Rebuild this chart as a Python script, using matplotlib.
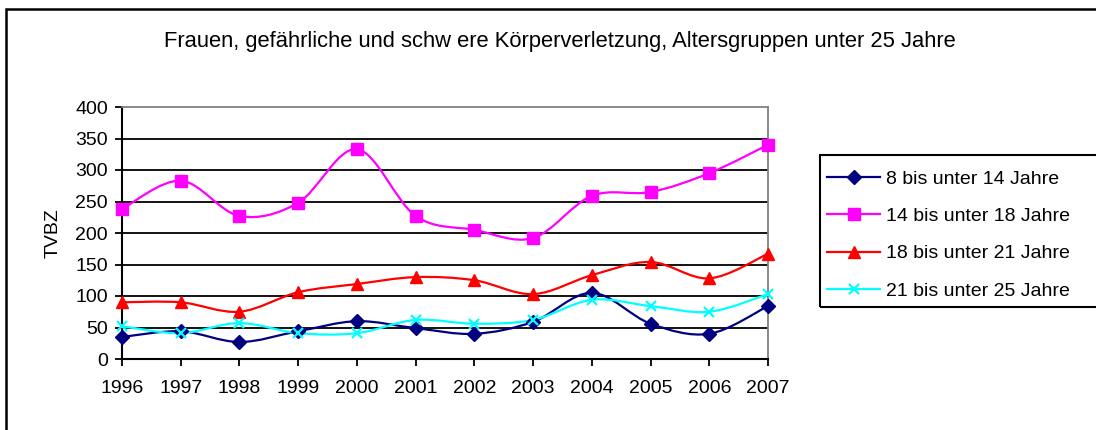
import matplotlib

matplotlib.use("Agg")
import matplotlib.pyplot as plt
from matplotlib.lines import Line2D
from matplotlib.patches import PathPatch, Rectangle
from matplotlib.path import Path

plt.rcParams["font.family"] = ["Liberation Sans", "DejaVu Sans"]

YEARS = [1996, 1997, 1998, 1999, 2000, 2001, 2002, 2003, 2004, 2005, 2006, 2007]

AGE_8_14 = [35, 44, 27, 44, 60, 49, 40, 59, 105, 56, 40, 84]
AGE_14_18 = [238, 283, 227, 248, 333, 227, 205, 192, 259, 265, 295, 340]
AGE_18_21 = [90, 90, 75, 106, 119, 130, 125, 103, 133, 154, 128, 167]
AGE_21_25 = [52, 41, 57, 41, 41, 62, 56, 62, 94, 84, 75, 103]

LABELS = [
    "8 bis unter 14 Jahre",
    "14 bis unter 18 Jahre",
    "18 bis unter 21 Jahre",
    "21 bis unter 25 Jahre",
]
TITLE = "Frauen, gefährliche und schw ere Körperverletzung, Altersgruppen unter 25 Jahre"
Y_TICKS = [0, 50, 100, 150, 200, 250, 300, 350, 400]

STYLES = [
    ("#000080", "D", 7.5),
    ("#FF00FF", "s", 8),
    ("#FF0000", "^", 9),
    ("#00FFFF", "x", 7.5),
]

W, H = 1096, 430


def smooth_path(xs, ys):
    """Bezier path through the points, like spreadsheet 'smoothed line'."""
    pts = list(zip(xs, ys))
    verts = [pts[0]]
    codes = [Path.MOVETO]
    n = len(pts)
    for i in range(n - 1):
        p0 = pts[max(i - 1, 0)]
        p1 = pts[i]
        p2 = pts[i + 1]
        p3 = pts[min(i + 2, n - 1)]
        c1 = (p1[0] + (p2[0] - p0[0]) / 6, p1[1] + (p2[1] - p0[1]) / 6)
        c2 = (p2[0] - (p3[0] - p1[0]) / 6, p2[1] - (p3[1] - p1[1]) / 6)
        verts += [c1, c2, p2]
        codes += [Path.CURVE4] * 3
    return Path(verts, codes)


fig = plt.figure(figsize=(W / 100, H / 100), dpi=100)
ax = fig.add_axes([122 / W, 1 - 359 / H, 646 / W, 252 / H])

for yv in Y_TICKS[1:-1]:
    ax.axhline(yv, color="black", lw=1.3, zorder=1)

handles = []
for series, label, (color, marker, ms) in zip(
    [AGE_8_14, AGE_14_18, AGE_18_21, AGE_21_25], LABELS, STYLES
):
    ax.add_patch(PathPatch(smooth_path(YEARS, series), facecolor="none",
                           edgecolor=color, lw=1.6, zorder=3, clip_on=False))
    mew = 1.6 if marker == "x" else 1
    ax.plot(YEARS, series, linestyle="none", marker=marker, ms=ms, color=color,
            mec=color, mew=mew, zorder=4, clip_on=False)
    handles.append(Line2D([], [], color=color, lw=1.6, marker=marker,
                          ms=ms, mew=mew, label=label))

ax.set_xlim(1996, 2007)
ax.set_ylim(0, 400)
ax.set_xticks(YEARS)
ax.set_yticks(Y_TICKS)
ax.tick_params(axis="both", direction="out", length=5, width=1.3, labelsize=14)
ax.tick_params(axis="x", pad=10)
ax.tick_params(axis="y", pad=5)
ax.set_ylabel("TVBZ", fontsize=14, labelpad=10)

for side in ("top", "right"):
    ax.spines[side].set_color("#808080")
    ax.spines[side].set_linewidth(1.3)
for side in ("left", "bottom"):
    ax.spines[side].set_color("black")
    ax.spines[side].set_linewidth(1.5)

fig.text(560 / W, 1 - 41 / H, TITLE, ha="center", va="center", fontsize=15.8)

leg = fig.legend(handles=handles, loc="upper left",
                 bbox_to_anchor=(827 / W, 1 - 170 / H), borderaxespad=0,
                 borderpad=0, fontsize=14, handlelength=2.75, handletextpad=0.3,
                 labelspacing=1.02, frameon=False)

# legend box, cut off at the right edge
fig.patches.append(Rectangle((820 / W, 1 - 307 / H), 0.3, 152 / H,
                             transform=fig.transFigure, fill=False,
                             edgecolor="black", lw=1.5))

# outer chart border, running off the right and bottom edges
fig.patches.append(Rectangle((6 / W, -0.1), 1.2, 1 - 9 / H + 0.1,
                             transform=fig.transFigure, fill=False,
                             edgecolor="black", lw=1.8))

fig.savefig("out.png", dpi=100)
